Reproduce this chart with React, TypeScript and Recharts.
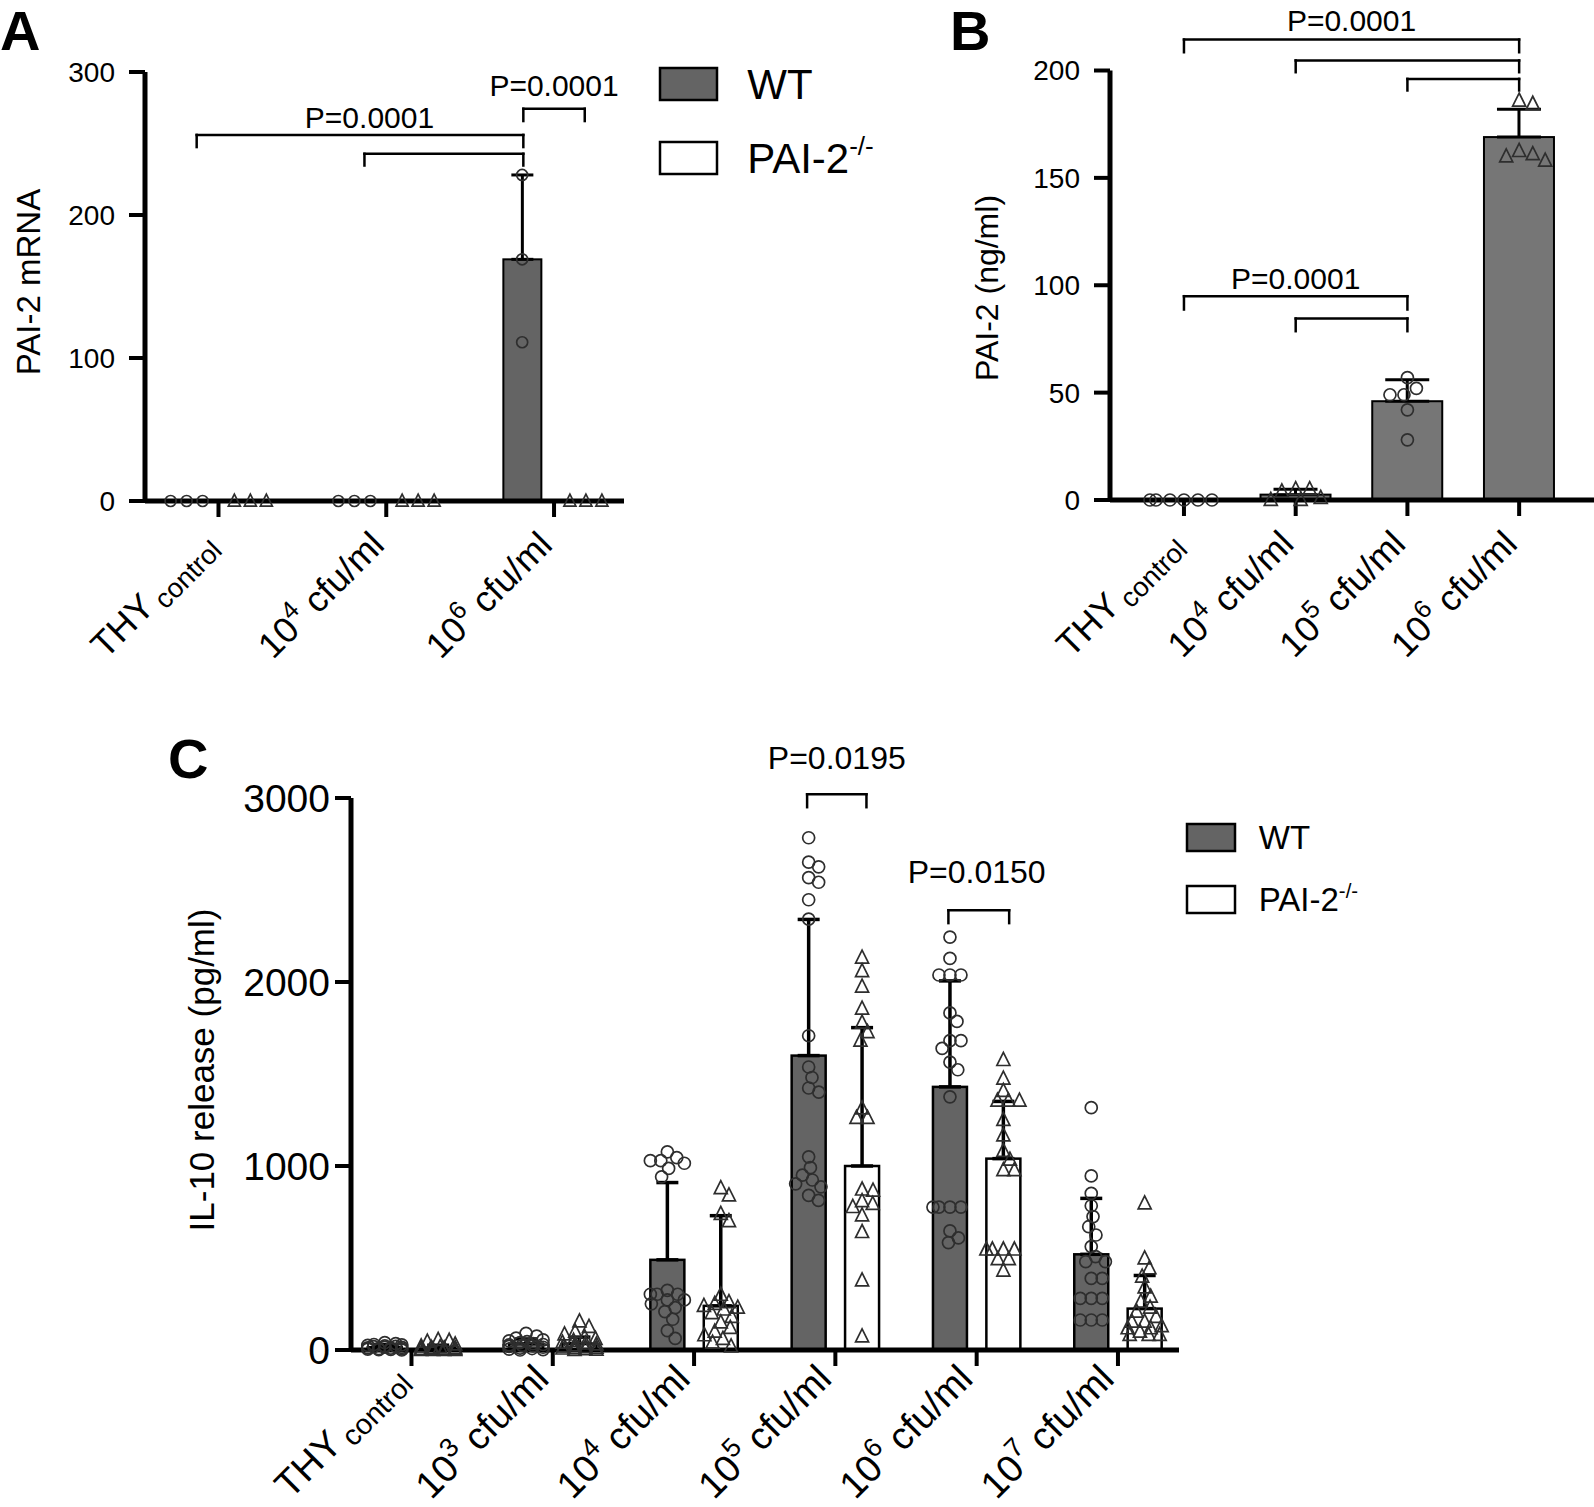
import React from 'react';
import {
  ComposedChart,
  Bar,
  Cell,
  ErrorBar,
  Scatter,
  XAxis,
  YAxis,
  ReferenceLine,
  ReferenceDot,
} from 'recharts';

const FONT = '"Liberation Sans", Arial, Helvetica, sans-serif';

// ---------------- Panel A data ----------------
const A_GROUPS = [
  { t: 'THY', sub: 'control' },
  { t: '10', sup: '4', rest: ' cfu/ml' },
  { t: '10', sup: '6', rest: ' cfu/ml' },
];
const A_WT_MEAN = [0, 0, 169];
const A_WT_SD = [0, 0, 59];
const A_KO_MEAN = [0, 0, 0];
const A_KO_SD = [0, 0, 0];
const A_WT_POINTS = [[0, 0, 0], [0, 0, 0], [228, 169, 111]];
const A_KO_POINTS = [[0, 0, 0], [0, 0, 0], [0, 0, 0]];
const A_Y_TICKS = [0, 100, 200, 300];
const A_BRACKETS = [
  { x1: -0.13, x2: 1.817, y: 256, y0: 247.5 },
  { x1: 0.87, x2: 1.817, y: 242.8, y0: 234.6 },
  { x1: 1.817, x2: 2.183, y: 274.3, y0: 265.7 },
];
const A_PLABELS = [
  { x: 0.9, y: 268.5, text: 'P=0.0001' },
  { x: 2.0, y: 290.7, text: 'P=0.0001' },
];

// ---------------- Panel B data ----------------
const B_GROUPS = [
  { t: 'THY', sub: 'control' },
  { t: '10', sup: '4', rest: ' cfu/ml' },
  { t: '10', sup: '5', rest: ' cfu/ml' },
  { t: '10', sup: '6', rest: ' cfu/ml' },
];
const B_MEAN = [0, 2.5, 46, 169];
const B_SD = [0, 2.5, 10, 13];
const B_POINTS = [
  [0, 0, 0, 0, 0, 0],
  [5, 0, 4, 1, 5, 0],
  [57, 52, 49, 49, 42, 28],
  [184.5, 186, 158, 162.5, 160, 161],
];
const B_MARKERS = ['c', 't', 'c', 't'];
const B_Y_TICKS = [0, 50, 100, 150, 200];
const B_BRACKETS = [
  { x1: 0, x2: 3, y: 214.4, y0: 208.5 },
  { x1: 1, x2: 3, y: 204.7, y0: 199.2 },
  { x1: 2, x2: 3, y: 196.1, y0: 190.7 },
  { x1: 0, x2: 2, y: 94.9, y0: 88.7 },
  { x1: 1, x2: 2, y: 84.5, y0: 78.6 },
];
const B_PLABELS = [
  { x: 1.5, y: 223.3, text: 'P=0.0001' },
  { x: 1.0, y: 103.1, text: 'P=0.0001' },
];

// ---------------- Panel C data ----------------
const C_GROUPS = [
  { t: 'THY', sub: 'control' },
  { t: '10', sup: '3', rest: ' cfu/ml' },
  { t: '10', sup: '4', rest: ' cfu/ml' },
  { t: '10', sup: '5', rest: ' cfu/ml' },
  { t: '10', sup: '6', rest: ' cfu/ml' },
  { t: '10', sup: '7', rest: ' cfu/ml' },
];
const C_WT_MEAN = [15, 35, 490, 1600, 1430, 520];
const C_WT_SD = [15, 25, 420, 740, 576, 304];
const C_KO_MEAN = [12, 35, 240, 1000, 1040, 225];
const C_KO_SD = [14, 35, 490, 752, 311, 180];
const C_WT_POINTS = [
  [40, 35, 30, 28, 25, 22, 20, 18, 15, 14, 12, 10, 8, 6, 5, 3, 2, 0],
  [90, 75, 65, 55, 50, 45, 40, 35, 30, 28, 25, 22, 20, 15, 10, 8, 5, 2, 0],
  [1077, 1046, 1029, 1029, 1015, 987, 941, 324, 303, 303, 303, 272, 272, 251, 230, 209, 167, 105, 63],
  [2784, 2651, 2626, 2567, 2542, 2447, 2342, 1708, 1538, 1481, 1424, 1401, 1050, 991, 950, 924, 903, 887, 840, 813],
  [2244, 2128, 2038, 2038, 2038, 1832, 1786, 1681, 1681, 1639, 1565, 1523, 1376, 777, 777, 777, 777, 647, 609, 584],
  [1317, 946, 851, 784, 725, 670, 625, 562, 507, 480, 480, 389, 389, 281, 281, 281, 163, 163, 163],
];
const C_KO_POINTS = [
  [55, 50, 45, 30, 20, 15, 12, 10, 8, 6, 5, 4, 3, 2, 1, 0, 0, 0],
  [155, 125, 100, 85, 70, 60, 50, 40, 35, 30, 25, 20, 15, 12, 10, 8, 5, 2, 0],
  [880, 840, 740, 700, 300, 260, 250, 240, 230, 220, 200, 180, 150, 120, 100, 80, 60, 40, 20],
  [2132, 2059, 1975, 1855, 1779, 1727, 1681, 1313, 1261, 1261, 872, 866, 809, 794, 777, 731, 641, 378, 74],
  [1576, 1475, 1408, 1355, 1355, 1355, 1250, 1166, 1082, 1034, 977, 977, 546, 546, 546, 546, 494, 494, 431],
  [797, 498, 444, 399, 340, 290, 263, 230, 208, 180, 154, 154, 130, 118, 118, 100, 82, 82, 82],
];
const C_Y_TICKS = [0, 1000, 2000, 3000];
const C_BRACKETS = [
  { x1: 2.8, x2: 3.22, y: 3020, y0: 2950 },
  { x1: 3.8, x2: 4.23, y: 2390, y0: 2320 },
];
const C_PLABELS = [
  { x: 3.01, y: 3220, text: 'P=0.0195' },
  { x: 4.0, y: 2600, text: 'P=0.0150' },
];

// ---------------- layout configs ----------------
const CFG_A = {
  left: 0, top: 0, width: 660, height: 700,
  plotLeft: 145, plotRight: 624, plotTop: 72, plotBottom: 501,
  xDomain: [-0.438, 2.417], yMax: 300, yTicks: A_Y_TICKS,
  tickFont: 28, tickMargin: 14, xLabelFont: 36, labelDx: 0, labelDy: 46,
  pFont: 30, barSize: 38, capHalf: 11, errWidth: 3, barStroke: 2,
  offset: 0.19, wtFill: '#646464', minDist: 16, maxW: 40, r: 5.5, tri: 12,
};
const CFG_B = {
  left: 900, top: 0, width: 694, height: 700,
  plotLeft: 1110, plotRight: 1594, plotTop: 70.5, plotBottom: 500,
  xDomain: [-0.662, 3.67], yMax: 200, yTicks: B_Y_TICKS,
  tickFont: 28, tickMargin: 14, xLabelFont: 36, labelDx: 0, labelDy: 46,
  pFont: 30, barSize: 70, capHalf: 22, errWidth: 3, barStroke: 2,
  offset: 0, wtFill: '#767676', minDist: 14, maxW: 34, r: 6, tri: 13,
};
const CFG_C = {
  left: 0, top: 700, width: 1200, height: 807,
  plotLeft: 351, plotRight: 1179, plotTop: 798, plotBottom: 1350,
  xDomain: [-0.428, 5.432], yMax: 3000, yTicks: C_Y_TICKS,
  tickFont: 39, tickMargin: 5, xLabelFont: 38, labelDx: -2, labelDy: 31,
  pFont: 32, barSize: 34, capHalf: 11, errWidth: 3.5, barStroke: 2.5,
  offset: 0.189, wtFill: '#646464', minDist: 11, maxW: 17, r: 6, tri: 13,
};

// beeswarm: horizontal spread of replicate points (pixel logic -> axis units)
function swarm(values: number[], center: number, cfg: any): number[] {
  const pxPerY = (cfg.plotBottom - cfg.plotTop) / cfg.yMax;
  const pxPerX = (cfg.plotRight - cfg.plotLeft) / (cfg.xDomain[1] - cfg.xDomain[0]);
  const md = cfg.minDist;
  const placed: { dx: number; py: number }[] = [];
  const out: number[] = new Array(values.length);
  const order = values.map((_, i) => i).sort((a, b) => values[b] - values[a]);
  for (const i of order) {
    const py = values[i] * pxPerY;
    const cands = [0];
    for (const p of placed) {
      const dy = Math.abs(p.py - py);
      if (dy < md) {
        const h = Math.sqrt(md * md - dy * dy);
        cands.push(p.dx + h, p.dx - h);
      }
    }
    const ok = cands.filter((c) =>
      placed.every((p) => (p.dx - c) ** 2 + (p.py - py) ** 2 >= md * md - 1e-6)
    );
    ok.sort((a, b) => Math.abs(a) - Math.abs(b));
    let dx = ok.length ? ok[0] : Infinity;
    if (Math.abs(dx) > cfg.maxW) {
      let best = 0;
      let bestScore = Infinity;
      for (let k = 0; k <= cfg.maxW * 2; k++) {
        const c = k % 2 === 0 ? k / 2 : -(k + 1) / 2;
        if (Math.abs(c) > cfg.maxW) continue;
        const score = placed.reduce((s, p) => {
          const d = Math.hypot(p.dx - c, p.py - py);
          return s + Math.max(0, md - d);
        }, 0);
        if (score < bestScore - 1e-9) {
          bestScore = score;
          best = c;
        }
      }
      dx = best;
    }
    placed.push({ dx, py });
    out[i] = center + dx / pxPerX;
  }
  return out;
}

function buildTwoSeries(wtM: number[], wtS: number[], koM: number[], koS: number[], cfg: any) {
  const rows: any[] = [];
  wtM.forEach((_, g) => {
    rows.push({ x: g - cfg.offset, v: wtM[g], err: [0, wtS[g]], s: 'wt' });
    rows.push({ x: g + cfg.offset, v: koM[g], err: [0, koS[g]], s: 'ko' });
  });
  return rows;
}

function buildTwoPoints(wtP: number[][], koP: number[][], cfg: any) {
  const pts: any[] = [];
  wtP.forEach((vals, g) => {
    const xs = swarm(vals, g - cfg.offset, cfg);
    vals.forEach((v, i) => pts.push({ x: xs[i], v, m: 'c' }));
  });
  koP.forEach((vals, g) => {
    const xs = swarm(vals, g + cfg.offset, cfg);
    vals.forEach((v, i) => pts.push({ x: xs[i], v, m: 't' }));
  });
  return pts;
}

const A_ROWS = buildTwoSeries(A_WT_MEAN, A_WT_SD, A_KO_MEAN, A_KO_SD, CFG_A);
const A_PTS = buildTwoPoints(A_WT_POINTS, A_KO_POINTS, CFG_A);
const C_ROWS = buildTwoSeries(C_WT_MEAN, C_WT_SD, C_KO_MEAN, C_KO_SD, CFG_C);
const C_PTS = buildTwoPoints(C_WT_POINTS, C_KO_POINTS, CFG_C);
const B_ROWS = B_MEAN.map((v, g) => ({ x: g, v, err: [0, B_SD[g]], s: 'wt' }));
const B_PTS: any[] = [];
B_POINTS.forEach((vals, g) => {
  const xs = swarm(vals, g, CFG_B);
  vals.forEach((v, i) => B_PTS.push({ x: xs[i], v, m: B_MARKERS[g] }));
});

function makeTick(labels: any[], fs: number, dx: number, dy: number) {
  return (p: any) => {
    const lab = labels[Math.round(p.payload.value)];
    if (!lab) return <g />;
    return (
      <g transform={`translate(${p.x + dx},${p.y + dy}) rotate(-45)`}>
        <text textAnchor="end" fontFamily={FONT} fontSize={fs} fill="#000">
          {lab.t}
          {lab.sup ? (
            <tspan dy={-0.42 * fs} fontSize={0.7 * fs}>
              {lab.sup}
            </tspan>
          ) : null}
          {lab.rest ? <tspan dy={lab.sup ? 0.42 * fs : 0}>{lab.rest}</tspan> : null}
          {lab.sub ? (
            <tspan dx={0.15 * fs} dy={0.2 * fs} fontSize={0.76 * fs}>
              {lab.sub}
            </tspan>
          ) : null}
        </text>
      </g>
    );
  };
}

function makeMarker(cfg: any) {
  return (p: any) => {
    const { cx, cy } = p;
    if (cx == null || cy == null) return <g />;
    const m = p.payload && p.payload.m;
    if (m === 't') {
      const s = cfg.tri;
      const d = `M${cx},${cy - s * 0.58} L${cx - s / 2},${cy + s * 0.42} L${cx + s / 2},${cy + s * 0.42} Z`;
      return <path d={d} fill="none" stroke="#2e2e2e" strokeWidth={1.7} />;
    }
    return <circle cx={cx} cy={cy} r={cfg.r} fill="none" stroke="#2e2e2e" strokeWidth={1.7} />;
  };
}

// bar drawn with fixed width, centred on the position the library computed
function makeBarShape(cfg: any) {
  return (p: any) => {
    if (p.x == null || p.y == null || !(p.height > 0)) return <g />;
    const cx = p.x + p.width / 2;
    const w = cfg.barSize;
    const fill = p.payload && p.payload.s === 'ko' ? '#ffffff' : cfg.wtFill;
    return (
      <rect x={cx - w / 2} y={p.y} width={w} height={p.height} fill={fill} stroke="#000" strokeWidth={cfg.barStroke} />
    );
  };
}

function Panel({ cfg, groups, rows, pts, brackets, plabels }: any) {
  const margin = {
    top: cfg.plotTop - cfg.top,
    right: cfg.left + cfg.width - cfg.plotRight,
    bottom: 0,
    left: 0,
  };
  const yAxisW = cfg.plotLeft - cfg.left;
  const xAxisH = cfg.top + cfg.height - cfg.plotBottom;
  const tickSize = 16;
  return (
    <div style={{ position: 'absolute', left: cfg.left, top: cfg.top, width: cfg.width, height: cfg.height }}>
      <ComposedChart width={cfg.width} height={cfg.height} data={rows} margin={margin}>
        <XAxis
          type="number"
          dataKey="x"
          domain={cfg.xDomain}
          ticks={groups.map((_: any, i: number) => i)}
          interval={0}
          height={xAxisH}
          tickSize={tickSize}
          tickMargin={0}
          axisLine={{ stroke: '#000', strokeWidth: 5 }}
          tickLine={{ stroke: '#000', strokeWidth: 4 }}
          tick={makeTick(groups, cfg.xLabelFont, cfg.labelDx, cfg.labelDy - tickSize)}
        />
        <YAxis
          type="number"
          domain={[0, cfg.yMax]}
          ticks={cfg.yTicks}
          interval={0}
          width={yAxisW}
          tickSize={tickSize}
          tickMargin={cfg.tickMargin}
          axisLine={{ stroke: '#000', strokeWidth: 5 }}
          tickLine={{ stroke: '#000', strokeWidth: 4 }}
          tick={{ fill: '#000', fontSize: cfg.tickFont, fontFamily: FONT }}
        />
        <Bar
          dataKey="v"
          barSize={cfg.barSize}
          isAnimationActive={false}
          stroke="#000"
          strokeWidth={cfg.barStroke}
          shape={makeBarShape(cfg)}
        >
          {rows.map((r: any, i: number) => (
            <Cell key={`c${i}`} fill={r.s === 'ko' ? '#ffffff' : cfg.wtFill} />
          ))}
          <ErrorBar
            dataKey="err"
            direction="y"
            width={cfg.capHalf}
            strokeWidth={cfg.errWidth}
            stroke="#000"
            isAnimationActive={false}
          />
        </Bar>
        <Scatter data={pts} dataKey="v" isAnimationActive={false} shape={makeMarker(cfg)} legendType="none" />
        {brackets.map((b: any, i: number) => [
          <ReferenceLine
            key={`bh${i}`}
            segment={[{ x: b.x1, y: b.y }, { x: b.x2, y: b.y }]}
            stroke="#000"
            strokeWidth={2.5}
            strokeLinecap="square"
            ifOverflow="visible"
          />,
          <ReferenceLine
            key={`bl${i}`}
            segment={[{ x: b.x1, y: b.y0 }, { x: b.x1, y: b.y }]}
            stroke="#000"
            strokeWidth={2.5}
            strokeLinecap="square"
            ifOverflow="visible"
          />,
          <ReferenceLine
            key={`br${i}`}
            segment={[{ x: b.x2, y: b.y0 }, { x: b.x2, y: b.y }]}
            stroke="#000"
            strokeWidth={2.5}
            strokeLinecap="square"
            ifOverflow="visible"
          />,
        ])}
        {plabels.map((l: any, i: number) => (
          <ReferenceDot
            key={`pl${i}`}
            x={l.x}
            y={l.y}
            r={0}
            fill="none"
            stroke="none"
            ifOverflow="visible"
            label={{ value: l.text, position: 'center', fontSize: cfg.pFont, fontFamily: FONT, fill: '#000' }}
          />
        ))}
      </ComposedChart>
    </div>
  );
}

function LegendBlock({ x, y, gap, w, h, fs, wtFill }: any) {
  return (
    <g fontFamily={FONT} fill="#000">
      <rect x={x} y={y} width={w} height={h} fill={wtFill} stroke="#000" strokeWidth={2.5} />
      <text x={x + w + fs * 0.72} y={y + h / 2 + fs * 0.36} fontSize={fs}>
        WT
      </text>
      <rect x={x} y={y + gap} width={w} height={h} fill="#fff" stroke="#000" strokeWidth={2.5} />
      <text x={x + w + fs * 0.72} y={y + gap + h / 2 + fs * 0.36} fontSize={fs}>
        PAI-2
        <tspan dy={-0.42 * fs} fontSize={0.62 * fs}>
          -/-
        </tspan>
      </text>
    </g>
  );
}

export default function App() {
  return (
    <div style={{ position: 'absolute', left: 0, top: 0, width: 1594, height: 1507, background: '#fff' }}>
      <Panel cfg={CFG_A} groups={A_GROUPS} rows={A_ROWS} pts={A_PTS} brackets={A_BRACKETS} plabels={A_PLABELS} />
      <Panel cfg={CFG_B} groups={B_GROUPS} rows={B_ROWS} pts={B_PTS} brackets={B_BRACKETS} plabels={B_PLABELS} />
      <Panel cfg={CFG_C} groups={C_GROUPS} rows={C_ROWS} pts={C_PTS} brackets={C_BRACKETS} plabels={C_PLABELS} />
      <svg
        width={1594}
        height={1507}
        style={{ position: 'absolute', left: 0, top: 0, pointerEvents: 'none' }}
      >
        <g fontFamily={FONT} fontWeight="bold" fontSize={56} fill="#000">
          <text x={0} y={50}>A</text>
          <text x={950} y={50}>B</text>
          <text x={168} y={778}>C</text>
        </g>
        <g fontFamily={FONT} fill="#000">
          <text x={40} y={282} fontSize={33} textAnchor="middle" transform="rotate(-90, 40, 282)">
            PAI-2 mRNA
          </text>
          <text x={998} y={288} fontSize={32} textAnchor="middle" transform="rotate(-90, 998, 288)">
            PAI-2 (ng/ml)
          </text>
          <text x={214} y={1070} fontSize={35} textAnchor="middle" transform="rotate(-90, 214, 1070)">
            IL-10 release (pg/ml)
          </text>
        </g>
        <LegendBlock x={660} y={68} gap={74} w={57} h={32} fs={42} wtFill="#646464" />
        <LegendBlock x={1187} y={824} gap={62} w={48} h={27} fs={33} wtFill="#646464" />
      </svg>
    </div>
  );
}
